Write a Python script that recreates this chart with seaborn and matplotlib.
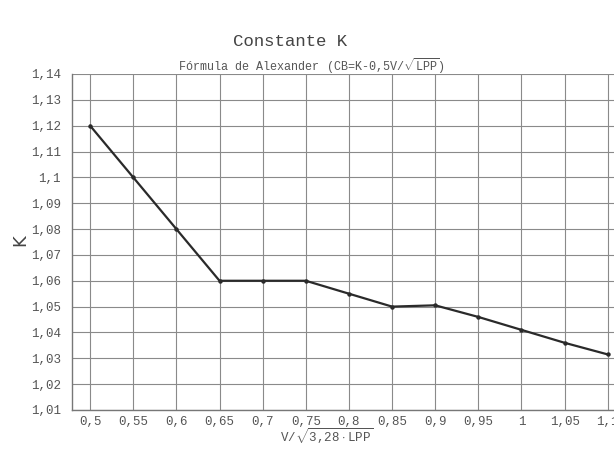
import matplotlib
matplotlib.use("Agg")
import matplotlib.pyplot as plt
import seaborn as sns
import pandas as pd

# data
x_vals = [0.5, 0.55, 0.6, 0.65, 0.7, 0.75, 0.8, 0.85, 0.9, 0.95, 1.0, 1.05, 1.1]
k_vals = [1.12, 1.10, 1.08, 1.06, 1.06, 1.06, 1.055, 1.05, 1.0505, 1.046, 1.041, 1.036, 1.0315]
x_ticks = [0.5, 0.55, 0.6, 0.65, 0.7, 0.75, 0.8, 0.85, 0.9, 0.95, 1.0, 1.05, 1.1]
x_tick_labels = ["0,5", "0,55", "0,6", "0,65", "0,7", "0,75", "0,8", "0,85", "0,9", "0,95", "1", "1,05", "1,1"]
y_ticks = [1.01, 1.02, 1.03, 1.04, 1.05, 1.06, 1.07, 1.08, 1.09, 1.10, 1.11, 1.12, 1.13, 1.14]
y_tick_labels = ["1,01", "1,02", "1,03", "1,04", "1,05", "1,06", "1,07", "1,08", "1,09", "1,1", "1,11", "1,12", "1,13", "1,14"]

df = pd.DataFrame({"x": x_vals, "K": k_vals})

sns.set_theme(style="whitegrid")
mono = ["Liberation Mono", "DejaVu Sans Mono"]
plt.rcParams["font.family"] = mono
plt.rcParams["mathtext.fontset"] = "custom"
plt.rcParams["mathtext.rm"] = "Liberation Mono"
plt.rcParams["mathtext.tt"] = "Liberation Mono"

fig = plt.figure(figsize=(6.14, 4.49), dpi=100)
ax = fig.add_axes([72 / 614, 1 - 410 / 449, (625 - 72) / 614, (410 - 74) / 449])

sns.lineplot(data=df, x="x", y="K", ax=ax, color="#2a2a2a", linewidth=1.6,
             marker="o", markersize=3.2, markeredgewidth=0, markerfacecolor="#2a2a2a")

ax.set_xlim(0.479, 1.12)
ax.set_ylim(1.01, 1.14)
ax.set_xticks(x_ticks)
ax.set_xticklabels(x_tick_labels)
ax.set_yticks(y_ticks)
ax.set_yticklabels(y_tick_labels)
ax.tick_params(axis="both", length=0, labelsize=9, labelcolor="#555555")
ax.tick_params(axis="y", pad=8)
ax.tick_params(axis="x", pad=4)
ax.grid(True, color="#8a8a8a", linewidth=0.8)
for s in ["top", "right"]:
    ax.spines[s].set_visible(False)
for s in ["left", "bottom"]:
    ax.spines[s].set_color("#777777")
    ax.spines[s].set_linewidth(1.0)

ax.set_xlabel("")
ax.set_ylabel("")

fig.text(20 / 614, 1 - 240 / 449, "K", rotation=90, fontsize=13, color="#444444",
         family=["DejaVu Sans"], ha="center", va="center")
fig.text(327 / 614, 1 - 436 / 449, r"V/$\sqrt{\mathrm{3{,}28\cdot LPP}}$", fontsize=9,
         color="#555555", ha="center", va="center")
fig.text(290 / 614, 1 - 42 / 449, "Constante K", fontsize=12.5, color="#444444",
         ha="center", va="center")
fig.text(311 / 614, 1 - 66 / 449, r"Fórmula de Alexander (CB=K-0,5V/$\sqrt{\mathrm{LPP}}$)",
         fontsize=8.5, color="#555555", ha="center", va="center")

fig.savefig("out.png", dpi=100)
